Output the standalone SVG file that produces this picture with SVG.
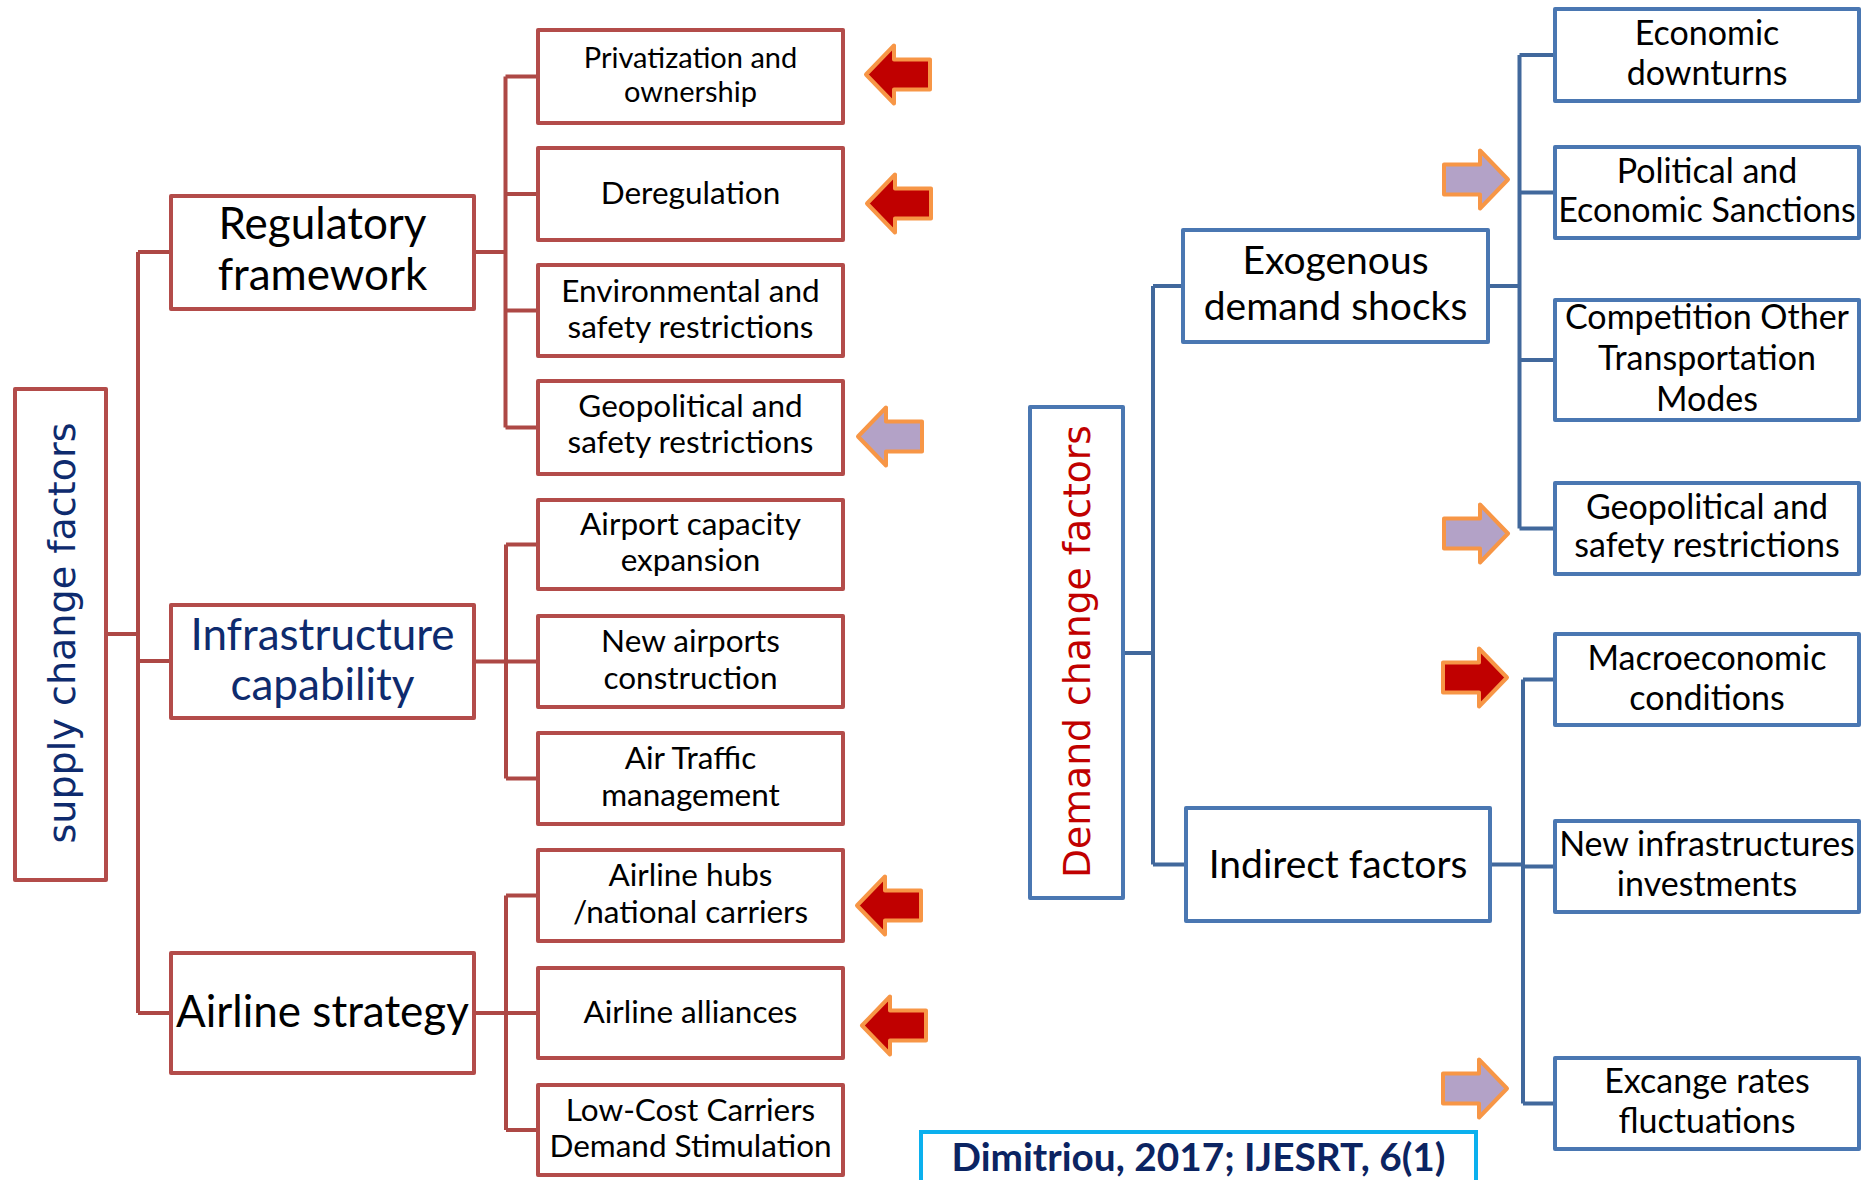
<svg xmlns="http://www.w3.org/2000/svg" xmlns:xlink="http://www.w3.org/1999/xlink" width="1862" height="1180" viewBox="0 0 1862 1180">
  <style>
    .bg { fill: #ffffff; }
    .box-r { fill: #ffffff; stroke: #B34C4A; stroke-width: 4; stroke-linejoin: round; }
    .box-b { fill: #ffffff; stroke: #4A77B2; stroke-width: 4; stroke-linejoin: round; }
    .box-c { fill: #ffffff; stroke: #0BB0EE; stroke-width: 4; }
    .conn-r { fill: none; stroke: #AD4845; stroke-width: 4; stroke-linejoin: round; }
    .conn-b { fill: none; stroke: #41689C; stroke-width: 4; stroke-linejoin: round; }
    .t { font-family: Lato, "Liberation Sans", sans-serif; fill: #000000; text-anchor: middle; }
    .vt { font-family: "DejaVu Sans", Verdana, sans-serif; font-size: 38px; text-anchor: middle; }
    .s44 { font-size: 44px; }
    .s39 { font-size: 39px; }
    .s34 { font-size: 34px; }
    .s31 { font-size: 31.5px; }
    .s29 { font-size: 29px; }
    .navy { fill: #0E2B6E; }
    .cite { font-family: Lato, "Liberation Sans", sans-serif; font-weight: bold; font-size: 39px; fill: #0B2462; text-anchor: middle; }
    .arrow { stroke: #F79646; stroke-width: 4; stroke-linejoin: round; }
    .red { fill: #C00000; }
    .lilac { fill: #B3A2C7; }
  </style>
  <defs>
    <!-- block arrow, tip at origin, pointing left -->
    <path id="blockArrow" d="M0,0 L28,-29 V-15 H64 V15 H28 V29 Z"/>
  </defs>

  <rect class="bg" x="0" y="0" width="1862" height="1180"/>

  <!-- connectors -->
  <g id="connectors">
    <!-- supply side -->
    <path class="conn-r" d="M108,634 H138 M138,252 V1013 M138,252 H169 M138,661 H169 M138,1013 H169"/>
    <path class="conn-r" d="M476,252 H505.5 M505.5,76.5 V427.5 M505.5,76.5 H536 M505.5,194 H536 M505.5,310.5 H536 M505.5,427.5 H536"/>
    <path class="conn-r" d="M476,661.5 H506 M506,544.5 V778.5 M506,544.5 H536 M506,661.5 H536 M506,778.5 H536"/>
    <path class="conn-r" d="M476,1013 H506 M506,895.5 V1130 M506,895.5 H536 M506,1013 H536 M506,1130 H536"/>
    <!-- demand side -->
    <path class="conn-b" d="M1125,653 H1153 M1153,286 V864.5 M1153,286 H1181 M1153,864.5 H1184"/>
    <path class="conn-b" d="M1490,286 H1519.5 M1519.5,55 V528.5 M1519.5,55 H1553 M1519.5,192.5 H1553 M1519.5,360 H1553 M1519.5,528.5 H1553"/>
    <path class="conn-b" d="M1492,864.5 H1523 M1523,679.5 V1103.5 M1523,679.5 H1553 M1523,866.5 H1553 M1523,1103.5 H1553"/>
  </g>

  <!-- supply change factors -->
  <g id="supply">
    <rect class="box-r" x="15" y="389" width="91" height="491"/>
    <text class="vt navy" transform="translate(75,633) rotate(-90)" textLength="421" lengthAdjust="spacingAndGlyphs">supply change factors</text>
  </g>

  <g id="regulatory">
    <rect class="box-r" x="171" y="196" width="303" height="113"/>
    <text class="t s44" x="322.5"><tspan x="322.5" y="239">Regulatory</tspan><tspan x="322.5" y="290">framework</tspan></text>
  </g>
  <g id="infrastructure">
    <rect class="box-r" x="171" y="605" width="303" height="113"/>
    <text class="t s44 navy" x="322.5"><tspan x="322.5" y="650">Infrastructure</tspan><tspan x="322.5" y="700">capability</tspan></text>
  </g>
  <g id="airline-strategy">
    <rect class="box-r" x="171" y="953" width="303" height="120"/>
    <text class="t s44" x="322.5" y="1027">Airline strategy</text>
  </g>

  <g id="privatization">
    <rect class="box-r" x="538" y="30" width="305" height="93"/>
    <text class="t s29"><tspan x="690.5" y="68">Privatization and</tspan><tspan x="690.5" y="102">ownership</tspan></text>
  </g>
  <g id="deregulation">
    <rect class="box-r" x="538" y="148" width="305" height="92"/>
    <text class="t s31" x="690.5" y="204">Deregulation</text>
  </g>
  <g id="environmental">
    <rect class="box-r" x="538" y="265" width="305" height="91"/>
    <text class="t s31"><tspan x="690.5" y="302">Environmental and</tspan><tspan x="690.5" y="338">safety restrictions</tspan></text>
  </g>
  <g id="geopolitical-supply">
    <rect class="box-r" x="538" y="381" width="305" height="93"/>
    <text class="t s31"><tspan x="690.5" y="417">Geopolitical and</tspan><tspan x="690.5" y="453">safety restrictions</tspan></text>
  </g>
  <g id="airport-capacity">
    <rect class="box-r" x="538" y="500" width="305" height="89"/>
    <text class="t s31"><tspan x="690.5" y="535">Airport capacity</tspan><tspan x="690.5" y="571">expansion</tspan></text>
  </g>
  <g id="new-airports">
    <rect class="box-r" x="538" y="616" width="305" height="91"/>
    <text class="t s31"><tspan x="690.5" y="652">New airports</tspan><tspan x="690.5" y="689">construction</tspan></text>
  </g>
  <g id="air-traffic">
    <rect class="box-r" x="538" y="733" width="305" height="91"/>
    <text class="t s31"><tspan x="690.5" y="769">Air Traffic</tspan><tspan x="690.5" y="806">management</tspan></text>
  </g>
  <g id="airline-hubs">
    <rect class="box-r" x="538" y="850" width="305" height="91"/>
    <text class="t s31"><tspan x="690.5" y="886">Airline hubs</tspan><tspan x="690.5" y="923">/national carriers</tspan></text>
  </g>
  <g id="airline-alliances">
    <rect class="box-r" x="538" y="968" width="305" height="90"/>
    <text class="t s31" x="690.5" y="1023">Airline alliances</text>
  </g>
  <g id="low-cost">
    <rect class="box-r" x="538" y="1085" width="305" height="90"/>
    <text class="t s31"><tspan x="690.5" y="1121">Low-Cost Carriers</tspan><tspan x="690.5" y="1157">Demand Stimulation</tspan></text>
  </g>

  <!-- demand change factors -->
  <g id="demand">
    <rect class="box-b" x="1030" y="407" width="93" height="491"/>
    <text class="vt red" transform="translate(1090,651.5) rotate(-90)" textLength="453" lengthAdjust="spacingAndGlyphs">Demand change factors</text>
  </g>
  <g id="exogenous">
    <rect class="box-b" x="1183" y="230" width="305" height="112"/>
    <text class="t s39"><tspan x="1335.5" y="274">Exogenous</tspan><tspan x="1335.5" y="320">demand shocks</tspan></text>
  </g>
  <g id="indirect">
    <rect class="box-b" x="1186" y="808" width="304" height="113"/>
    <text class="t s39" x="1338" y="878">Indirect factors</text>
  </g>

  <g id="economic-downturns">
    <rect class="box-b" x="1555" y="9" width="304" height="92"/>
    <text class="t s34"><tspan x="1707" y="45">Economic</tspan><tspan x="1707" y="85">downturns</tspan></text>
  </g>
  <g id="sanctions">
    <rect class="box-b" x="1555" y="147" width="304" height="91"/>
    <text class="t s34"><tspan x="1707" y="183">Political and</tspan><tspan x="1707" y="222">Economic Sanctions</tspan></text>
  </g>
  <g id="competition">
    <rect class="box-b" x="1555" y="300" width="304" height="120"/>
    <text class="t s34"><tspan x="1707" y="329">Competition Other</tspan><tspan x="1707" y="370">Transportation</tspan><tspan x="1707" y="411">Modes</tspan></text>
  </g>
  <g id="geopolitical-demand">
    <rect class="box-b" x="1555" y="483" width="304" height="91"/>
    <text class="t s34"><tspan x="1707" y="519">Geopolitical and</tspan><tspan x="1707" y="557">safety restrictions</tspan></text>
  </g>
  <g id="macroeconomic">
    <rect class="box-b" x="1555" y="634" width="304" height="91"/>
    <text class="t s34"><tspan x="1707" y="670">Macroeconomic</tspan><tspan x="1707" y="710">conditions</tspan></text>
  </g>
  <g id="new-infrastructures">
    <rect class="box-b" x="1555" y="821" width="304" height="91"/>
    <text class="t s34"><tspan x="1707" y="856">New infrastructures</tspan><tspan x="1707" y="896">investments</tspan></text>
  </g>
  <g id="exchange-rates">
    <rect class="box-b" x="1555" y="1058" width="304" height="91"/>
    <text class="t s34"><tspan x="1707" y="1093">Excange rates</tspan><tspan x="1707" y="1133">fluctuations</tspan></text>
  </g>

  <!-- impact markers -->
  <g id="markers">
    <use xlink:href="#blockArrow" class="arrow red" transform="translate(866,74.5)"/>
    <use xlink:href="#blockArrow" class="arrow red" transform="translate(867,203.5)"/>
    <use xlink:href="#blockArrow" class="arrow lilac" transform="translate(858,436.5)"/>
    <use xlink:href="#blockArrow" class="arrow red" transform="translate(857,905.5)"/>
    <use xlink:href="#blockArrow" class="arrow red" transform="translate(862,1025.5)"/>
    <use xlink:href="#blockArrow" class="arrow lilac" transform="translate(1508,179.5) scale(-1,1)"/>
    <use xlink:href="#blockArrow" class="arrow lilac" transform="translate(1508,533.5) scale(-1,1)"/>
    <use xlink:href="#blockArrow" class="arrow red" transform="translate(1507,677.5) scale(-1,1)"/>
    <use xlink:href="#blockArrow" class="arrow lilac" transform="translate(1507,1088.5) scale(-1,1)"/>
  </g>

  <!-- source note -->
  <g id="citation">
    <rect class="box-c" x="921" y="1132" width="555" height="70"/>
    <text class="cite" x="1198.5" y="1171" textLength="494" lengthAdjust="spacingAndGlyphs">Dimitriou, 2017; IJESRT, 6(1)</text>
  </g>
</svg>
